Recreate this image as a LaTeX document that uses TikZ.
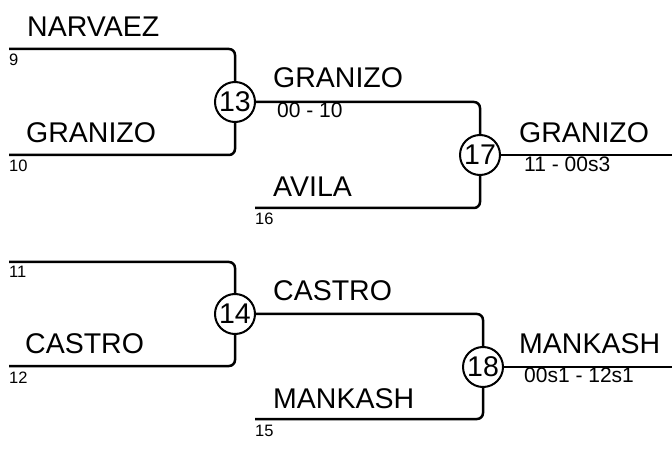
\documentclass[tikz,border=0pt]{standalone}
\usepackage{fontspec}
\setmainfont{Liberation Sans}
\begin{document}
\begin{tikzpicture}[x=1pt,y=-1pt,
  conn/.style={line width=2.5pt,rounded corners=6pt},
  game/.style={circle,draw,line width=2pt,minimum size=40pt,inner sep=0pt,font=\fontsize{28.5}{30}\selectfont},
  team/.style={anchor=base west,inner sep=0pt,font=\fontsize{28.5}{30}\selectfont},
  seed/.style={anchor=base west,inner sep=0pt,font=\fontsize{16.5}{18}\selectfont},
  score/.style={anchor=base west,inner sep=0pt,font=\fontsize{21}{23}\selectfont}]
\useasboundingbox (0,0) rectangle (672,454);
% games
\node[game] (c13) at (235,102) {13};
\node[game] (c14) at (235,314) {14};
\node[game] (c17) at (480,155) {17};
\node[game] (c18) at (483,367) {18};
% entry points
\coordinate (s9) at (9,49);
\coordinate (s10) at (9,155);
\coordinate (s11) at (9,262);
\coordinate (s12) at (9,366);
\coordinate (s16) at (255,208);
\coordinate (s15) at (255,419);
\coordinate (e17) at (672,155);
\coordinate (e18) at (672,367);
% connectors
\draw[conn] (s9) -| (c13.north);
\draw[conn] (s10) -| (c13.south);
\draw[conn] (s11) -| (c14.north);
\draw[conn] (s12) -| (c14.south);
\draw[conn] (c13.east) -| (c17.north);
\draw[conn] (s16) -| (c17.south);
\draw[conn] (c14.east) -| (c18.north);
\draw[conn] (s15) -| (c18.south);
\draw[conn] (c17.east) -- (e17);
\draw[conn] (c18.east) -- (e18);
% team names
\node[team] (tNar) at (27,37) {NARVAEZ};
\node[team] (tGra1) at (26,143) {GRANIZO};
\node[team] (tCas1) at (25,353) {CASTRO};
\node[team] (tGra2) at (273,88) {GRANIZO};
\node[team] (tAvi) at (273,197) {AVILA};
\node[team] (tCas2) at (273,301) {CASTRO};
\node[team] (tMan2) at (273,408) {MANKASH};
\node[team] (tGra3) at (519,143) {GRANIZO};
\node[team] (tMan3) at (519,353) {MANKASH};
% seeds
\node[seed] (n9) at (9,66) {9};
\node[seed] (n10) at (9,172) {10};
\node[seed] (n11) at (9,278) {11};
\node[seed] (n12) at (9,383) {12};
\node[seed] (n16) at (255,225) {16};
\node[seed] (n15) at (255,436) {15};
% scores
\node[score] (sc13) at (277,118) {00 - 10};
\node[score] (sc17) at (524,172) {11 - 00s3};
\node[score] (sc18) at (524,382) {00s1 - 12s1};
\end{tikzpicture}
\end{document}
